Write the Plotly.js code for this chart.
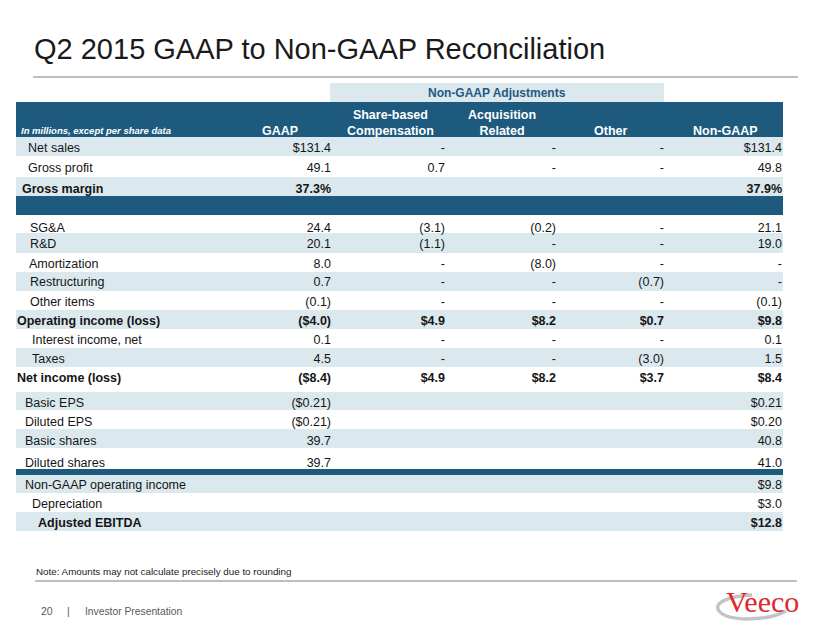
<!DOCTYPE html>
<html><head><meta charset="utf-8">
<script src="https://cdn.plot.ly/plotly-3.0.1.min.js"></script>
<style>html,body{margin:0;padding:0;background:#fff}#chart{width:824px;height:637px}</style>
</head><body><div id="chart"></div>
<script>
// ---------------- DATA ----------------
const titleText = 'Q2 2015 GAAP to Non-GAAP Reconciliation';
const unitNote = 'In millions, except per share data';
const groupLabel = 'Non-GAAP Adjustments';
const columnHeaders = ['GAAP', 'Share-based<br>Compensation', 'Acquisition<br>Related', 'Other', 'Non-GAAP'];
const rowLabels = ['Net sales', 'Gross profit', 'Gross margin',
  'SG&A', 'R&D', 'Amortization', 'Restructuring', 'Other items',
  'Operating income (loss)', 'Interest income, net', 'Taxes', 'Net income (loss)',
  'Basic EPS', 'Diluted EPS', 'Basic shares', 'Diluted shares',
  'Non-GAAP operating income', 'Depreciation', 'Adjusted EBITDA'];
const gaap = ['$131.4', '49.1', '37.3%',
  '24.4', '20.1', '8.0', '0.7', '(0.1)',
  '($4.0)', '0.1', '4.5', '($8.4)',
  '($0.21)', '($0.21)', '39.7', '39.7',
  '', '', ''];
const shareBased = ['-', '0.7', '',
  '(3.1)', '(1.1)', '-', '-', '-',
  '$4.9', '-', '-', '$4.9',
  '', '', '', '',
  '', '', ''];
const acquisition = ['-', '-', '',
  '(0.2)', '-', '(8.0)', '-', '-',
  '$8.2', '-', '-', '$8.2',
  '', '', '', '',
  '', '', ''];
const other = ['-', '-', '',
  '-', '-', '-', '(0.7)', '-',
  '$0.7', '-', '(3.0)', '$3.7',
  '', '', '', '',
  '', '', ''];
const nonGaap = ['$131.4', '49.8', '37.9%',
  '21.1', '19.0', '-', '-', '(0.1)',
  '$9.8', '0.1', '1.5', '$8.4',
  '$0.21', '$0.20', '40.8', '41.0',
  '$9.8', '$3.0', '$12.8'];
const boldRows = ['Gross margin', 'Operating income (loss)', 'Net income (loss)', 'Adjusted EBITDA'];
const footnote = 'Note: Amounts may not calculate precisely due to rounding';
const pageNumber = '20';
const footerLabel = 'Investor Presentation';
const brandName = 'Veeco';

// ---------------- LAYOUT GEOMETRY (slide units, 1 unit = 1 px) ----------------
const TABLE_L = 16, TABLE_R = 783;
const HEADER_TOP = 102, HEADER_BOTTOM = 137;
const GROUP_BAND = {x0: 330, x1: 664, y0: 83, y1: 102};
const rowTop    = [137, 156, 177, 215, 233, 253, 272, 291, 310, 329, 348, 367, 392, 410, 429, 448, 475, 493, 512];
const rowBottom = [156, 177, 196, 233, 253, 272, 291, 310, 329, 348, 367, 392, 410, 429, 448, 469, 493, 512, 531];
const rowShaded = [1, 0, 1, 0, 1, 0, 1, 0, 1, 0, 1, 0, 1, 0, 1, 0, 1, 0, 1];
const textCenter = [147, 167, 188, 227, 243, 263, 281, 301, 320, 339, 358, 377, 402, 421, 440, 462, 484, 503, 522];
const labelIndent = [28, 28, 22, 30, 30, 29, 30, 30, 17, 32, 32, 17, 25, 25, 25, 25, 25, 32, 38];
const darkBands = [[196, 215], [469, 475]];
const colRight = [331, 445, 556, 664, 782];
const headerCenter = [280, 390, 502, 610, 725];

const DARK = '#1d5a7e', LIGHT = '#dbe8ee', TEXT = '#151515';
const FONT = 'Liberation Sans, Arial, sans-serif';
const FS = 12.5;

const fmt = (s, i) => boldRows.includes(rowLabels[i]) && s ? '<b>' + s + '</b>' : s;
const textY = textCenter.map(c => c + 1.4);

const traces = [];
traces.push({
  type: 'scatter', mode: 'text', x: labelIndent, y: textY,
  text: rowLabels.map(fmt), textposition: 'middle right',
  textfont: {family: FONT, size: FS, color: TEXT},
  hoverinfo: 'skip', cliponaxis: false, showlegend: false
});
[gaap, shareBased, acquisition, other, nonGaap].forEach((col, c) => {
  traces.push({
    type: 'scatter', mode: 'text', x: col.map(() => colRight[c]), y: textY,
    text: col.map(fmt), textposition: 'middle left',
    textfont: {family: FONT, size: FS, color: TEXT},
    hoverinfo: 'skip', cliponaxis: false, showlegend: false
  });
});

const shapes = [];
const rect = (x0, x1, y0, y1, color) => ({type: 'rect', xref: 'x', yref: 'y', x0, x1, y0, y1,
  fillcolor: color, line: {width: 0}, layer: 'below'});
shapes.push(rect(GROUP_BAND.x0, GROUP_BAND.x1, GROUP_BAND.y0, GROUP_BAND.y1, LIGHT));
shapes.push(rect(TABLE_L, TABLE_R, HEADER_TOP, HEADER_BOTTOM, DARK));
rowTop.forEach((t, i) => { if (rowShaded[i]) shapes.push(rect(TABLE_L, TABLE_R, t, rowBottom[i], LIGHT)); });
darkBands.forEach(b => shapes.push(rect(TABLE_L, TABLE_R, b[0], b[1], DARK)));
// title rule and footer rule
shapes.push({type: 'line', xref: 'x', yref: 'y', x0: 33, x1: 798, y0: 77, y1: 77, line: {color: '#a8a8a8', width: 1.5}});
shapes.push({type: 'line', xref: 'x', yref: 'y', x0: 35, x1: 797, y0: 581, y1: 581, line: {color: '#a8a8a8', width: 1.5}});
// logo swoosh
shapes.push({type: 'path', xref: 'x', yref: 'y',
  path: 'M 786 611 C 768 621, 728 622, 719 611 C 713 603, 728 596, 752 595',
  line: {color: '#c4c4c4', width: 3.5}, layer: 'below'});

const annotations = [];
const ann = (o) => Object.assign({xref: 'x', yref: 'y', showarrow: false, borderpad: 0}, o);
annotations.push(ann({x: 33, y: 49, xanchor: 'left', yanchor: 'middle', text: titleText,
  font: {family: FONT, size: 29, color: '#1a1a1a'}}));
annotations.push(ann({x: (GROUP_BAND.x0 + GROUP_BAND.x1) / 2, y: 92.5, xanchor: 'center', yanchor: 'middle',
  text: '<b>' + groupLabel + '</b>', font: {family: FONT, size: 12, color: '#1f5a80'}}));
annotations.push(ann({x: 20, y: 130, xanchor: 'left', yanchor: 'middle', text: '<b><i>' + unitNote + '</i></b>',
  font: {family: FONT, size: 9.5, color: '#ffffff'}}));
columnHeaders.forEach((h, c) => {
  annotations.push(ann({x: headerCenter[c], y: 138.5, xanchor: 'center', yanchor: 'bottom', text: '<b>' + h + '</b>',
    font: {family: FONT, size: FS, color: '#ffffff'}}));
});
annotations.push(ann({x: 35, y: 571, xanchor: 'left', yanchor: 'middle', text: footnote,
  font: {family: FONT, size: 9.8, color: '#1a1a1a'}}));
annotations.push(ann({x: 40, y: 611, xanchor: 'left', yanchor: 'middle', text: pageNumber,
  font: {family: FONT, size: 10.5, color: '#595959'}}));
annotations.push(ann({x: 68, y: 611, xanchor: 'center', yanchor: 'middle', text: '|',
  font: {family: FONT, size: 10.5, color: '#595959'}}));
annotations.push(ann({x: 84, y: 611, xanchor: 'left', yanchor: 'middle', text: footerLabel,
  font: {family: FONT, size: 10.3, color: '#595959'}}));
annotations.push(ann({x: 762, y: 601, xanchor: 'center', yanchor: 'middle', text: brandName,
  font: {family: 'Liberation Serif, serif', size: 30, color: '#e0282e'}}));

const layout = {
  width: 824, height: 637, margin: {l: 0, r: 0, t: 0, b: 0},
  paper_bgcolor: '#ffffff', plot_bgcolor: '#ffffff', showlegend: false,
  xaxis: {range: [0, 824], visible: false, fixedrange: true},
  yaxis: {range: [637, 0], visible: false, fixedrange: true},
  shapes, annotations
};
Plotly.newPlot('chart', traces, layout, {staticPlot: true, displayModeBar: false});
</script>
</body></html>
